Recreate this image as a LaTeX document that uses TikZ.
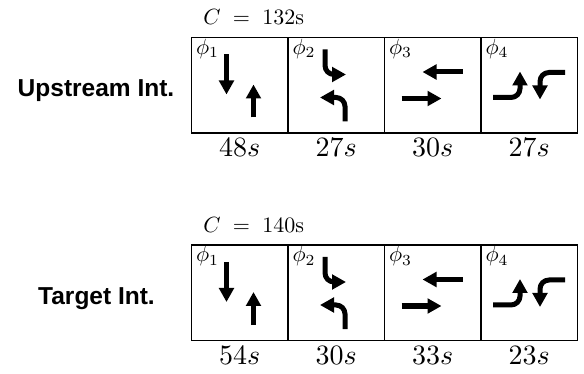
\documentclass[tikz,border=0pt]{standalone}
\usepackage{fontspec}
\usepackage{tikz}
\usetikzlibrary{arrows.meta,positioning}
\newfontfamily\labelfont{Liberation Sans}

\begin{document}
\begin{tikzpicture}[
  x=1pt, y=-1pt,
  >={Triangle[length=14pt,width=14.5pt]},
  phase/.style={draw, rectangle, line width=1.5pt, inner sep=0pt, outer sep=0pt,
                minimum width=96.5pt, minimum height=95.5pt},
  mv/.style={->, line width=5pt},
  turn/.style={mv, rounded corners=9pt},
  philab/.style={anchor=north west, inner sep=0.5pt, font=\fontsize{10}{10}\selectfont,
                 scale=2.2, transform shape},
  dur/.style={anchor=base, inner sep=0pt, font=\fontsize{10}{10}\selectfont,
              scale=2.8, transform shape},
  cyc/.style={anchor=base west, inner sep=0pt, font=\fontsize{10}{10}\selectfont,
              scale=2.2, transform shape},
  intlab/.style={anchor=base, inner sep=0pt, font=\labelfont\bfseries\fontsize{24.5}{24.5}\selectfont}
]
\useasboundingbox (0,0) rectangle (584,374);

% upstream intersection
\node[phase] (up1) at (239.75,85.25) {};
\node[phase, right=0pt of up1] (up2) {};
\node[phase, right=0pt of up2] (up3) {};
\node[phase, right=0pt of up3] (up4) {};

\node[intlab] (uplab) at (96,96.5) {Upstream Int.};
\node[cyc] (upcyc) at ([shift={(11.5,-12.5)}]up1.north west) {$C\;=\;132\mathrm{s}$};

\node[dur] (upd1) at ([yshift=-24pt]up1.south) {$48s$};
\node[dur] (upd2) at ([yshift=-24pt]up2.south) {$27s$};
\node[dur] (upd3) at ([yshift=-24pt]up3.south) {$30s$};
\node[dur] (upd4) at ([yshift=-24pt]up4.south) {$27s$};

% target intersection
\node[phase] (tg1) at (239.75,292.75) {};
\node[phase, right=0pt of tg1] (tg2) {};
\node[phase, right=0pt of tg2] (tg3) {};
\node[phase, right=0pt of tg3] (tg4) {};

\node[intlab] (tglab) at (96.5,304.3) {Target Int.};
\node[cyc] (tgcyc) at ([shift={(11.5,-12.5)}]tg1.north west) {$C\;=\;140\mathrm{s}$};

\node[dur] (tgd1) at ([yshift=-24pt]tg1.south) {$54s$};
\node[dur] (tgd2) at ([yshift=-24pt]tg2.south) {$30s$};
\node[dur] (tgd3) at ([yshift=-24pt]tg3.south) {$33s$};
\node[dur] (tgd4) at ([yshift=-24pt]tg4.south) {$23s$};

% phase labels and movements
\foreach \r in {up,tg} {
  \node[philab] (\r p1) at ([xshift=3pt]\r1.north west) {$\phi_1$};
  \node[philab] (\r p2) at ([xshift=3pt]\r2.north west) {$\phi_2$};
  \node[philab] (\r p3) at ([xshift=3pt]\r3.north west) {$\phi_3$};
  \node[philab] (\r p4) at ([xshift=3pt]\r4.north west) {$\phi_4$};

  \draw[mv] ([shift={(35,17)}]\r1.north west) -- ++(0,40);
  \draw[mv] ([shift={(62,80)}]\r1.north west) -- ++(0,-33);

  \draw[turn] ([shift={(37,12)}]\r2.north west) |- ++(21,25);
  \draw[turn] ([shift={(57,84)}]\r2.north west) |- ++(-25,-24);

  \draw[mv] ([shift={(78,34.5)}]\r3.north west) -- ++(-40,0);
  \draw[mv] ([shift={(17,61)}]\r3.north west) -- ++(40,0);

  \draw[turn] ([shift={(12,60)}]\r4.north west) -| ++(27,-26);
  \draw[turn] ([shift={(84,35)}]\r4.north west) -| ++(-25,27);
}
\end{tikzpicture}
\end{document}
